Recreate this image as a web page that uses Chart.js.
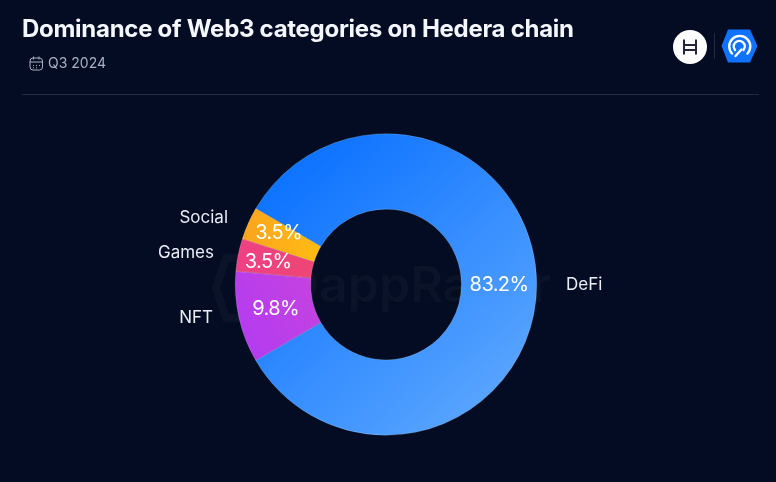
<!DOCTYPE html>
<html>
<head>
<meta charset="utf-8">
<title>Dominance of Web3 categories on Hedera chain</title>
<script src="https://cdn.jsdelivr.net/npm/chart.js@4"></script>
<style>
  html, body { margin: 0; padding: 0; background: #030c22; }
  #wrap { position: relative; width: 776px; height: 482px; overflow: hidden; font-family: Inter, sans-serif; }
  #myChart { position: absolute; left: 0; top: 0; }
  h1 { position: absolute; left: 22px; top: 14px; margin: 0; font-size: 24px; line-height: 30px; font-weight: 700; letter-spacing: -0.28px; color: #f4f7fd; white-space: nowrap; }
  #period { position: absolute; left: 48px; top: 54px; font-size: 14px; line-height: 18px; color: #a9b1c4; }
  #rule { position: absolute; left: 22px; top: 94px; width: 737px; height: 1px; background: #1f2940; }
  svg { position: absolute; }
</style>
</head>
<body>
<div id="wrap">
  <canvas id="myChart" width="776" height="482"></canvas>
  <h1>Dominance of Web3 categories on Hedera chain</h1>
  <svg style="left:29px;top:56px" width="15" height="15" viewBox="0 0 15 15" fill="none" stroke="#a9b1c4" stroke-width="1">
    <rect x="1" y="2" width="12.5" height="12" rx="3"/>
    <path d="M1 6h12.5M4.5 0.5v3M10 0.5v3"/>
    <path d="M4 9.5h1M7 9.5h1M10 9.5h1M4 11.8h1M7 11.8h1"/>
  </svg>
  <div id="period">Q3 2024</div>
  <div id="rule"></div>
  <svg style="left:673px;top:30px" width="35" height="35" viewBox="0 0 35 35">
    <circle cx="17" cy="17" r="17" fill="#fff"/>
    <path d="M11 9.500v15M23 9.500v15M11 15h12M11 20h12" stroke="#23253a" stroke-width="2" fill="none"/>
  </svg>
  <svg style="left:714px;top:33px" width="1" height="26"><rect width="1" height="26" fill="#1f2940"/></svg>
  <svg style="left:721px;top:29px" width="37" height="35" viewBox="0 0 37 35">
    <path d="M7 0.500h22L36.500 17L29 33.500H7L0.500 17Z" fill="#1073ff"/>
    <g fill="none" stroke="#fff" stroke-width="2.400" stroke-linecap="round">
      <path d="M11 24.500a10.500 10.500 0 1 1 15.500 0"/>
      <path d="M14 21a5.500 5.500 0 1 1 8.500 0"/>
      <path d="M14.500 27l6-6.500"/>
    </g>
  </svg>
</div>
<script>
// Data
const categories = ['DeFi', 'NFT', 'Games', 'Social'];
const dominance = [83.2, 9.8, 3.5, 3.5];

// Nudges for the labels that sit off the middle of their slice
const percentNudge = [[0, 0], [0, 0], [-7, 0], [-4, -6]];
const nameAnchor = [[566, 285], [213, 318], [214, 253], [228, 218]];

const canvas = document.getElementById('myChart');
const ctx = canvas.getContext('2d');

function gradient(x0, y0, x1, y1, from, to) {
  const g = ctx.createLinearGradient(x0, y0, x1, y1);
  g.addColorStop(0, from);
  g.addColorStop(1, to);
  return g;
}

const sliceColors = [
  gradient(300, 170, 510, 400, '#0f74ff', '#5ba6ff'),
  gradient(240, 340, 320, 290, '#b43cf0', '#c442e0'),
  gradient(240, 260, 320, 260, '#ee4184', '#ee4673'),
  gradient(245, 240, 320, 240, '#fba51f', '#ffbb12')
];

// Faint watermark behind the doughnut
const watermark = {
  id: 'watermark',
  beforeDatasetsDraw(chart) {
    const c = chart.ctx;
    c.save();
    c.fillStyle = '#0a1328';
    c.font = '600 50px Inter, sans-serif';
    c.textAlign = 'left';
    c.textBaseline = 'alphabetic';
    c.fillText('DappRadar', 283, 302);
    c.strokeStyle = '#0a1328';
    c.lineWidth = 8;
    c.beginPath();
    c.moveTo(226, 258);
    c.lineTo(245, 258);
    c.lineTo(254, 288);
    c.lineTo(245, 318);
    c.lineTo(226, 318);
    c.lineTo(216, 288);
    c.closePath();
    c.stroke();
    c.restore();
  }
};

// Percent inside each slice, name outside it
const sliceLabels = {
  id: 'sliceLabels',
  afterDatasetsDraw(chart) {
    const c = chart.ctx;
    const arcs = chart.getDatasetMeta(0).data;
    c.save();
    c.textBaseline = 'middle';
    arcs.forEach(function(arc, i) {
      const mid = arc.getCenterPoint();
      c.fillStyle = '#ffffff';
      c.textAlign = 'center';
      c.font = '20px Inter, sans-serif';
      c.letterSpacing = '-0.6px';
      c.fillText(dominance[i] + '%', mid.x + percentNudge[i][0], mid.y + percentNudge[i][1]);

      c.fillStyle = '#e9edf6';
      c.textAlign = i === 0 ? 'left' : 'right';
      c.font = '17px Inter, sans-serif';
      c.letterSpacing = '0px';
      c.fillText(categories[i], nameAnchor[i][0], nameAnchor[i][1]);
    });
    c.restore();
  }
};

new Chart(ctx, {
  type: 'doughnut',
  data: {
    labels: categories,
    datasets: [{
      data: dominance,
      backgroundColor: sliceColors,
      borderColor: 'rgba(255, 255, 255, 0.35)',
      borderWidth: 0.5
    }]
  },
  options: {
    responsive: false,
    animation: false,
    cutout: '50%',
    rotation: -59.76,
    layout: { padding: { left: 235, right: 239, top: 133, bottom: 46 } },
    plugins: {
      legend: { display: false },
      tooltip: { enabled: false }
    }
  },
  plugins: [watermark, sliceLabels]
});
</script>
</body>
</html>
